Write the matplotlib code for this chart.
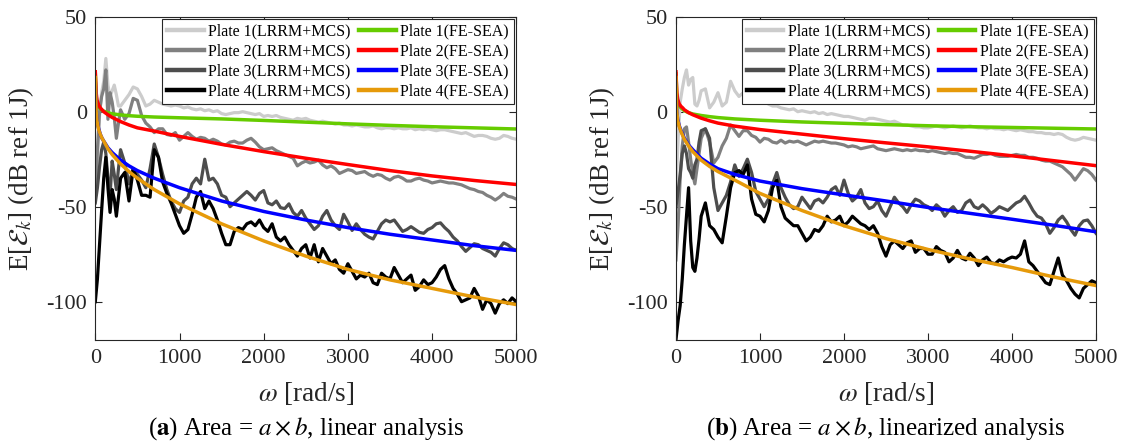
import numpy as np
import matplotlib
matplotlib.use('Agg')
import matplotlib.pyplot as plt

plt.rcParams['font.family'] = ['Liberation Serif', 'DejaVu Serif']
plt.rcParams['mathtext.fontset'] = 'stix'
plt.rcParams['axes.unicode_minus'] = False

# ---------------- sampling grids (rad/s) ----------------
W = np.concatenate([np.arange(0, 301, 25), np.arange(350, 5001, 50)])
W_FE = [0, 10, 20, 40, 60, 80, 100, 150, 200, 300, 400, 500, 700, 1000,
        1500, 2000, 2500, 3000, 3500, 4000, 4500, 5000]

labels_lrrm = ['Plate 1(LRRM+MCS)', 'Plate 2(LRRM+MCS)',
               'Plate 3(LRRM+MCS)', 'Plate 4(LRRM+MCS)']
labels_fe = ['Plate 1(FE-SEA)', 'Plate 2(FE-SEA)',
             'Plate 3(FE-SEA)', 'Plate 4(FE-SEA)']
colors_lrrm = ['#CCCCCC', '#808080', '#4D4D4D', '#000000']
colors_fe = ['#66CC00', '#FF0000', '#0000FF', '#E69A0A']

# ---------------- (a) linear analysis ----------------
a_p1 = [-46, -25, -2, 10, 16, 28, 14, 8, 11, 14, 9, 3, 3,
        6, 9, 13, 12, 8, 3, 4, 6, 5, 4,
        3.5, 3, 3.5, 3, 2, 2.5, 1.5, 1, 1.5, 0.5,
        1, 0, 0.5, -1, -1.5, -1, -0.5, -0.5, 0, -0.5,
        -1, -1.5, -1, -2.5, -2, -2.5, -2, -3, -3.5, -4,
        -4.5, -3.5, -4, -3.5, -4.5, -5, -5.5, -5, -5.5, -6,
        -6.5, -6, -7, -7, -7.5, -7, -7.5, -8, -8, -7.5,
        -8.5, -9, -8.5, -8.5, -9, -8.5, -9, -9, -8.5, -9.5,
        -9, -9.5, -9, -9.5, -10, -9.5, -9.5, -10, -10.5, -11,
        -11.5, -11, -12, -13, -12.5, -12.5, -13, -14, -14.5, -14,
        -12.5, -13, -14, -14.5]
a_p2 = [-45, -20, 0, 8, 12, 22, -4, 10, 5, -3, -14, -6, 1,
        -4, -1, 7, 6, -2, -6, -8, -11, -9, -9,
        -12, -12.5, -11, -15, -13, -11, -13, -14.5, -13.5, -14,
        -15.5, -14.5, -15.5, -17, -17.5, -16, -15.5, -16.5, -16.5, -15,
        -14, -16, -18.5, -20, -19.5, -19, -20.5, -21.5, -22.5, -23.5,
        -24.5, -28.5, -27, -26, -27, -26.5, -25.5, -28, -29.5, -28.5,
        -30, -32.5, -31.5, -30.5, -31, -32.5, -32, -31.5, -33, -34,
        -33, -33.5, -35, -36, -34.5, -34, -35, -36.5, -36.5, -35.5,
        -35, -36, -36.5, -37.5, -37, -36.5, -37, -37.5, -37.5, -38,
        -38.5, -39.5, -40.5, -41, -42, -42.5, -44, -45, -46.5, -45,
        -43, -44.5, -45, -46]
a_p3 = [-48, -40, -29, -20, -16, -22, -35, -44, -26, -33, -41, -30, -20,
        -27, -38, -30, -33, -36, -40, -30, -17, -24, -33,
        -41, -47, -51, -53, -47, -45, -38, -35, -38, -25,
        -36, -35, -38, -44, -45, -50, -48, -46, -44, -42,
        -44, -46.5, -43, -41.5, -48, -49, -47, -50.5, -51, -48.5,
        -53, -55, -52, -56, -59, -62, -60, -55, -52, -57,
        -60, -62, -54, -58, -62.5, -59, -62, -64.5, -66, -67,
        -63, -59, -57, -58, -57, -60, -63, -62, -60.5, -62,
        -63.5, -64, -62, -61, -59, -58.5, -61, -63, -66, -68,
        -71, -73.5, -71.5, -69.5, -70, -72, -73, -74, -76, -72,
        -69, -70, -72, -73]
a_p4 = [-100, -88, -70, -52, -35, -24, -40, -53, -41, -46, -55, -45, -35,
        -32, -47, -30, -36, -44, -44, -45, -20, -24, -37,
        -43, -48, -54, -60, -64, -62, -54, -45, -42, -51,
        -47, -51, -57, -64, -70, -70, -63, -61, -62, -59,
        -58, -60, -57, -61, -63, -59, -66, -68, -66, -70,
        -73, -76, -72, -70, -77, -70, -79, -72, -76, -80,
        -78, -83, -85, -80, -84, -88, -86, -87, -85, -90,
        -91, -85, -87, -88, -82, -86, -90, -88, -86, -94,
        -92, -88.5, -91, -90, -87, -83, -81, -88, -93, -96,
        -100, -99, -98, -93, -97, -104, -99, -101, -106, -101,
        -99, -101, -98, -100]
a_fe1 = [20, 8, 4.5, 2.5, 1.5, 0.8, 0.3, -0.5, -1.1, -1.7, -2.1, -2.4, -2.8,
         -3.2, -3.8, -4.6, -5.5, -6.4, -7.2, -7.9, -8.5, -9.1]
a_fe2 = [21, 10, 6, 3.5, 2, 1, 0, -1.6, -3, -5.2, -7, -8.5, -10.2, -13,
         -17.2, -21, -24.5, -27.8, -31, -33.8, -36.2, -38.3]
a_fe3 = [15, 0, -5, -9, -12, -14, -15.5, -19, -21.5, -25.5, -28.5, -31, -35,
         -40, -47, -52.5, -57, -61, -64.5, -67.5, -70.5, -73]
a_fe4 = [18, 0, -5, -9.5, -12, -14, -15.5, -19.5, -22.5, -27.5, -31.5, -35,
         -41, -48.5, -59, -68, -76, -83, -88.5, -93, -97.5, -101.5]

# ---------------- (b) linearized analysis ----------------
b_p1 = [-40, -15, 5, 12, 18, 22, 14, 17, 18, 4, 3, 6, 11,
        12, 2, 5, 10, 3, 5, 16, 11, 8, 10,
        11, 9, 7, 6, 6.5, 4, 3, 3, 2, 1.5,
        1, 1.5, 0, 0.5, 0, -0.5, 0, -1, -0.5, -1.5,
        -1, -1.5, -2, -2.5, -2.5, -3, -3.5, -4, -4.5, -3.5,
        -3.5, -4, -4.5, -5, -5.5, -5, -6, -7, -7, -7.5,
        -8, -8, -8.5, -8.5, -8, -7.5, -8, -8.5, -8, -7.5,
        -8, -8.5, -8, -7.5, -8, -8.5, -8.5, -9, -8.5, -9,
        -9, -9.5, -9, -9.5, -10, -9.5, -10, -10.5, -10.5, -11,
        -11, -11.5, -11.5, -12, -11.5, -12, -13.5, -14.5, -15, -14.5,
        -13.5, -14, -14.5, -15]
b_p2 = [-78, -60, -35, -18, -9, -8, -16, -25, -33, -38, -30, -22, -14,
        -9, -16, -27, -24, -18, -14, -7, -10, -13, -10,
        -10, -12.5, -13.5, -16, -14, -14.5, -16, -16.5, -15, -16.5,
        -15.5, -16, -15.5, -16.5, -17.5, -16.5, -15.5, -16, -15.5, -16,
        -16.5, -16.5, -17, -17.5, -18.5, -18, -18.5, -19.5, -19, -18.5,
        -18, -19.5, -20, -20.5, -20, -19.5, -20, -20.5, -20, -20.5,
        -20, -20.5, -20.5, -21, -20.5, -21, -21.5, -22, -21.5, -22,
        -22, -23, -24, -24, -24.5, -23.5, -22.5, -22.5, -22, -23,
        -23.5, -23.5, -23.5, -23, -22.5, -23, -23, -24, -24, -24.5,
        -25.5, -26, -26, -27, -28, -29, -31, -33, -36, -33,
        -30, -31, -33, -36]
b_p3 = [-50, -42, -33, -22, -18, -22, -30, -32, -35, -28, -25, -16, -10,
        -9, -14, -40, -52, -48, -44, -37, -28, -34, -30,
        -25, -32, -42, -46, -50, -46, -38, -32, -40, -45,
        -49, -51, -50, -45, -48, -51, -47, -46, -48, -45,
        -41, -39.5, -44, -36, -43, -47, -45, -41, -48, -51,
        -50, -47, -52, -55, -50, -45, -48, -50, -53, -49,
        -46, -47, -49, -50, -52, -49, -51, -55, -52, -50,
        -53, -52, -48, -46.5, -50, -51, -49, -51, -53.5, -52,
        -50, -51, -52, -50, -48, -47, -44.5, -48, -52, -55,
        -56, -59, -64, -61, -57, -55, -58, -62, -65, -60,
        -57.5, -57, -60, -64]
b_p4 = [-120, -110, -102, -88, -70, -55, -40, -68, -82, -84, -77, -67, -55,
        -48, -60, -62, -66, -69, -55, -40, -32, -31, -33,
        -28, -46, -54, -55, -58, -52, -40, -36, -50, -56,
        -58, -60, -60, -64, -68, -66, -62, -63, -60, -55,
        -58, -57, -55, -60, -58, -55, -57, -59, -60, -62,
        -60, -64, -71, -76, -70, -68, -70, -72, -69, -68,
        -74, -72, -72, -75, -75, -71, -73, -74, -79, -77,
        -73, -77, -78, -74.5, -77, -81, -78, -76.5, -79.5, -80,
        -78, -79, -77.5, -76.5, -77, -75, -68, -79, -81, -84,
        -87, -90, -91, -84, -77, -86, -89, -93, -96, -98,
        -93, -91, -89, -90]
b_fe1 = [20, 8, 5, 3, 2, 1.2, 0.5, -0.5, -1.2, -2, -2.6, -3.1, -3.8, -4.5,
         -5.4, -6.1, -6.8, -7.4, -7.9, -8.3, -8.7, -9.1]
b_fe2 = [21, 10, 6.5, 4, 2.8, 2, 1, -0.5, -1.6, -3.4, -4.8, -6, -7.6, -9.4,
         -11.8, -14.2, -16.4, -18.5, -20.8, -23.2, -25.8, -28.4]
b_fe3 = [15, 0, -4, -7.5, -10, -12, -14, -17.5, -20, -24.5, -27.5, -30, -33,
         -36.5, -40.5, -43.8, -47, -50.4, -53.5, -56.6, -59.8, -63.2]
b_fe4 = [18, 0, -4.5, -8, -10.5, -12.5, -14.5, -18, -21, -25.5, -28.8, -31.5,
         -36, -43, -52, -60, -66.8, -72.5, -77.5, -82, -87, -91.5]

xticks = [0, 1000, 2000, 3000, 4000, 5000]
yticks = [-100, -50, 0, 50]

fig = plt.figure(figsize=(11.24, 4.45), dpi=100)
ax_a = fig.add_axes([0.0848, 0.2366, 0.3745, 0.7259])
ax_b = fig.add_axes([0.6014, 0.2366, 0.3737, 0.7259])


def draw(ax, lrrm, fe):
    handles = []
    for y, c, lab in zip(lrrm, colors_lrrm, labels_lrrm):
        h, = ax.plot(W, y, color=c, lw=2.3, label=lab, solid_joinstyle='round')
        handles.append(h)
    for y, c, lab in zip(fe, colors_fe, labels_fe):
        h, = ax.plot(W_FE, y, color=c, lw=2.5, label=lab, solid_joinstyle='round')
        handles.append(h)
    ax.set_xlim(0, 5000)
    ax.set_ylim(-120, 50)
    ax.set_xticks(xticks)
    ax.set_yticks(yticks)
    ax.tick_params(direction='in', length=5, width=0.8, colors='#262626',
                   labelcolor='#262626', labelsize=16, top=True, right=True)
    ax.tick_params(axis='x', pad=7)
    ax.tick_params(axis='y', pad=6)
    for s in ax.spines.values():
        s.set_color('#262626')
        s.set_linewidth(0.8)
    ax.set_xlabel(r'$\omega$ [rad/s]', fontsize=19.5, color='#262626')
    ax.set_ylabel(r'E[$\mathcal{E}_k$] (dB ref 1J)', fontsize=19.5, color='#262626')
    ax.xaxis.set_label_coords(0.5, -0.125)
    ax.yaxis.set_label_coords(-0.14, 0.5)
    leg = ax.legend(handles=handles, ncol=2, loc='upper right',
                    bbox_to_anchor=(1.0, 1.0), fontsize=11.5, frameon=True,
                    fancybox=False, framealpha=1, edgecolor='#262626',
                    handlelength=2.3, handletextpad=0.3, columnspacing=0.5,
                    labelspacing=0.24, borderpad=0.3, borderaxespad=0.15)
    leg.get_frame().set_linewidth(0.8)
    for ln in leg.get_lines():
        ln.set_linewidth(3.2)


draw(ax_a, [a_p1, a_p2, a_p3, a_p4], [a_fe1, a_fe2, a_fe3, a_fe4])
draw(ax_b, [b_p1, b_p2, b_p3, b_p4], [b_fe1, b_fe2, b_fe3, b_fe4])

fig.text(0.2720, 0.038, r'($\mathbf{a}$) Area = $a\times b$, linear analysis',
         ha='center', va='center', fontsize=18)
fig.text(0.7880, 0.038, r'($\mathbf{b}$) Area = $a\times b$, linearized analysis',
         ha='center', va='center', fontsize=18)

fig.savefig('out.png', dpi=100)
